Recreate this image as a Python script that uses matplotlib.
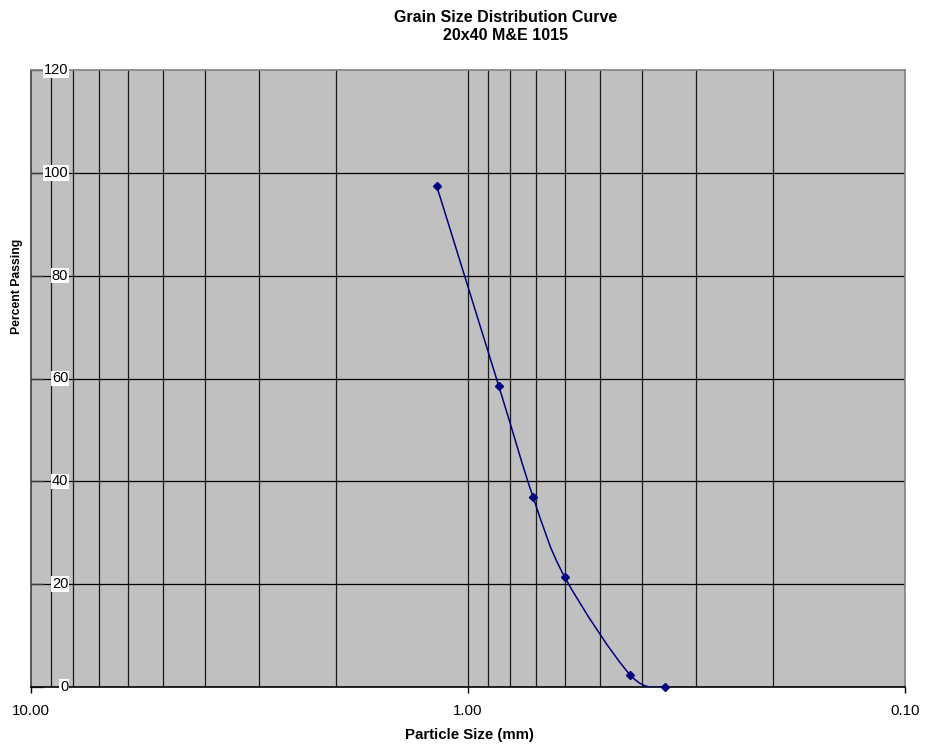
import numpy as np
import matplotlib
matplotlib.use("Agg")
import matplotlib.pyplot as plt
from matplotlib.path import Path
from matplotlib.patches import PathPatch
from matplotlib.ticker import FixedLocator, NullFormatter

plt.rcParams['font.family'] = ['Liberation Sans', 'DejaVu Sans']

# sieve data
size_mm = [1.18, 0.85, 0.71, 0.60, 0.425, 0.355]
pct_passing = [97.5, 58.5, 37.0, 21.3, 2.3, 0.0]

y_ticks = [0, 20, 40, 60, 80, 100, 120]
x_major = [10.0, 1.0, 0.1]
x_grid = [9, 8, 7, 6, 5, 4, 3, 2, 1, 0.9, 0.8, 0.7, 0.6, 0.5, 0.4, 0.3, 0.2]

fig = plt.figure(figsize=(9.25, 7.46), dpi=100)
ax = fig.add_axes([31/925, 59/746, 874/925, 617/746])
ax.set_facecolor('#C0C0C0')
ax.set_xscale('log')
ax.set_xlim(10, 0.1)
ax.set_ylim(0, 120)

# grid
for g in x_grid:
    ax.axvline(g, color='#1a1a1a', lw=0.9, zorder=1)
for t in y_ticks[1:-1]:
    ax.axhline(t, color='black', lw=0.9, zorder=1)

# smoothed line (Catmull-Rom -> Bezier in log-x space)
lx = np.log10(size_mm)
yy = np.array(pct_passing)
pts = np.column_stack([lx, yy])
n = len(pts)
verts = [pts[0]]
codes = [Path.MOVETO]
for i in range(n - 1):
    p0 = pts[i - 1] if i > 0 else pts[i]
    p1 = pts[i]
    p2 = pts[i + 1]
    p3 = pts[i + 2] if i + 2 < n else pts[i + 1]
    c1 = p1 + (p2 - p0) / 6
    c2 = p2 - (p3 - p1) / 6
    verts += [c1, c2, p2]
    codes += [Path.CURVE4] * 3
verts = np.array(verts)
verts[:, 0] = 10 ** verts[:, 0]
ax.add_patch(PathPatch(Path(verts, codes), fill=False, edgecolor='#000080',
                       lw=1.1, zorder=3))
ax.plot(size_mm, pct_passing, linestyle='none', marker='D', ms=4.5,
        color='#000080', zorder=4, clip_on=False)

# spines
ax.spines['left'].set_color('#404040')
ax.spines['bottom'].set_color('black')
ax.spines['top'].set_color('#808080')
ax.spines['right'].set_color('#808080')
for s in ax.spines.values():
    s.set_linewidth(1.2)

# y ticks, labels sit inside with white boxes
ax.yaxis.set_major_locator(FixedLocator(y_ticks))
ax.yaxis.set_major_formatter(NullFormatter())
ax.tick_params(axis='y', direction='in', length=8.5, width=1, color='#404040')
for t in y_ticks:
    ax.text(0.0425, t, str(t), transform=ax.get_yaxis_transform(),
            ha='right', va='center', fontsize=10.5, zorder=10, clip_on=False,
            bbox=dict(facecolor='white', edgecolor='none', pad=0.5))

# x ticks
ax.xaxis.set_major_locator(FixedLocator(x_major))
ax.xaxis.set_minor_locator(FixedLocator([]))
ax.set_xticklabels(['%.2f' % v for v in x_major], fontsize=10.8)
ax.tick_params(axis='x', direction='out', length=4, width=1, pad=8)

fig.text(469/925, 1 - 735/746, 'Particle Size (mm)', ha='center', va='center',
         fontsize=10.8, fontweight='bold')
fig.text(17/925, 1 - 286/746, 'Percent Passing', ha='center', va='center',
         rotation=90, fontsize=8.8, fontweight='bold')
fig.text(506/925, 1 - 27/746, 'Grain Size Distribution Curve\n20x40 M&E 1015',
         ha='center', va='center', fontsize=11.5, fontweight='bold', linespacing=1.25)

fig.savefig('out.png', dpi=100)
